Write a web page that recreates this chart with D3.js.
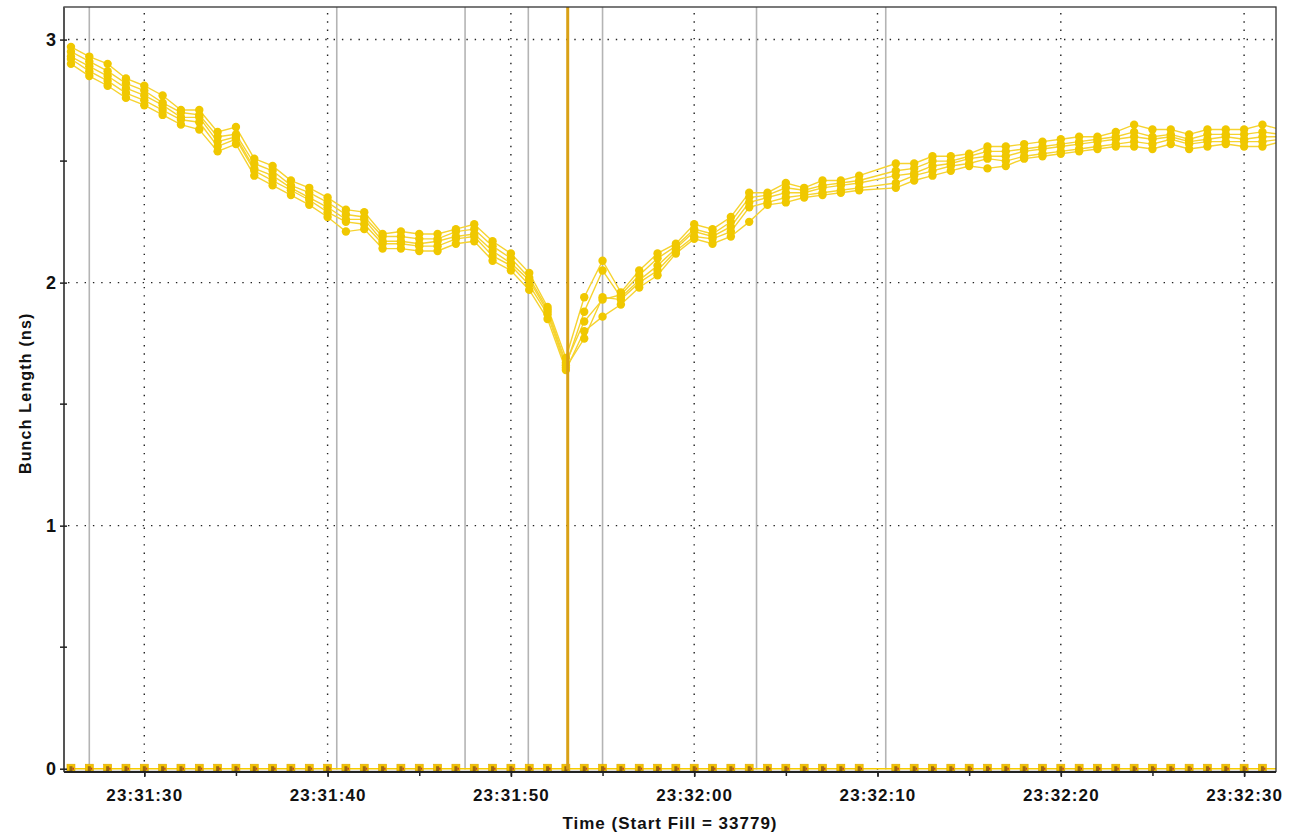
<!DOCTYPE html>
<html>
<head>
<meta charset="utf-8">
<script src="https://cdn.jsdelivr.net/npm/d3@7"></script>
<style>
  body { margin: 0; background: #fff; }
  text { font-family: "Liberation Sans", Arial, sans-serif; font-weight: bold; fill: #111; }
</style>
</head>
<body>
<script>
// Bunch length vs time, 23:31:26 .. 23:32:32 (seconds after 23:31:00)
let sampleSec = [
  26, 27, 28, 29, 30, 31, 32, 33, 34, 35, 36, 37, 38, 39, 40, 41, 42, 43, 44, 45,
  46, 47, 48, 49, 50, 51, 52, 53, 54, 55, 56, 57, 58, 59, 60, 61, 62, 63, 64, 65,
  66, 67, 68, 69, 71, 72, 73, 74, 75, 76, 77, 78, 79, 80, 81, 82, 83, 84, 85, 86,
  87, 88, 89, 90, 91, 92
]

let bunch1 = [
  2.97, 2.93, 2.90, 2.84, 2.81, 2.77, 2.71, 2.71, 2.62, 2.64, 2.51, 2.48, 2.42, 2.39, 2.35, 2.30, 2.29, 2.20, 2.21, 2.20,
  2.20, 2.22, 2.24, 2.17, 2.12, 2.04, 1.90, 1.69, 1.94, 2.09, 1.96, 2.05, 2.12, 2.16, 2.24, 2.22, 2.27, 2.37, 2.37, 2.41,
  2.39, 2.42, 2.42, 2.44, 2.49, 2.49, 2.52, 2.52, 2.53, 2.56, 2.56, 2.57, 2.58, 2.59, 2.60, 2.60, 2.62, 2.65, 2.63, 2.63,
  2.61, 2.63, 2.63, 2.63, 2.65, 2.63
]
let bunch2 = [
  2.95, 2.91, 2.87, 2.82, 2.79, 2.74, 2.70, 2.69, 2.60, 2.61, 2.49, 2.46, 2.40, 2.37, 2.33, 2.28, 2.27, 2.19, 2.19, 2.18,
  2.18, 2.21, 2.22, 2.15, 2.10, 2.02, 1.89, 1.67, 1.84, 1.93, 1.95, 2.03, 2.10, 2.15, 2.22, 2.20, 2.25, 2.35, 2.36, 2.39,
  2.38, 2.40, 2.41, 2.42, 2.46, 2.47, 2.50, 2.50, 2.52, 2.54, 2.54, 2.55, 2.56, 2.57, 2.58, 2.59, 2.60, 2.62, 2.60, 2.61,
  2.59, 2.61, 2.61, 2.61, 2.62, 2.61
]
let bunch3 = [
  2.93, 2.89, 2.85, 2.80, 2.77, 2.73, 2.68, 2.68, 2.58, 2.60, 2.47, 2.44, 2.39, 2.35, 2.31, 2.26, 2.26, 2.17, 2.17, 2.16,
  2.17, 2.19, 2.20, 2.13, 2.08, 2.01, 1.88, 1.66, 1.88, 2.05, 1.94, 2.01, 2.07, 2.14, 2.21, 2.19, 2.23, 2.33, 2.35, 2.37,
  2.37, 2.39, 2.40, 2.41, 2.44, 2.45, 2.48, 2.49, 2.51, 2.52, 2.52, 2.54, 2.55, 2.56, 2.57, 2.58, 2.59, 2.60, 2.59, 2.60,
  2.58, 2.59, 2.60, 2.59, 2.60, 2.60
]
let bunch4 = [
  2.92, 2.87, 2.83, 2.78, 2.75, 2.71, 2.67, 2.66, 2.56, 2.59, 2.46, 2.42, 2.38, 2.34, 2.29, 2.25, 2.24, 2.16, 2.16, 2.15,
  2.15, 2.18, 2.19, 2.11, 2.07, 1.99, 1.87, 1.65, 1.77, 1.94, 1.93, 2.00, 2.05, 2.13, 2.19, 2.18, 2.21, 2.31, 2.33, 2.35,
  2.36, 2.37, 2.38, 2.39, 2.41, 2.44, 2.46, 2.48, 2.49, 2.51, 2.50, 2.52, 2.53, 2.54, 2.55, 2.56, 2.57, 2.58, 2.57, 2.59,
  2.57, 2.58, 2.58, 2.58, 2.58, 2.59
]
let bunch5 = [
  2.90, 2.85, 2.81, 2.76, 2.73, 2.69, 2.65, 2.63, 2.54, 2.57, 2.44, 2.40, 2.36, 2.32, 2.27, 2.21, 2.22, 2.14, 2.14, 2.13,
  2.13, 2.16, 2.17, 2.09, 2.05, 1.97, 1.85, 1.64, 1.80, 1.86, 1.91, 1.98, 2.03, 2.12, 2.18, 2.16, 2.19, 2.25, 2.32, 2.33,
  2.35, 2.36, 2.37, 2.38, 2.39, 2.42, 2.44, 2.46, 2.48, 2.47, 2.48, 2.51, 2.52, 2.53, 2.54, 2.55, 2.56, 2.56, 2.55, 2.57,
  2.55, 2.56, 2.57, 2.56, 2.56, 2.58
]
// empty buckets sit on the zero line
let zeroBunch = [
  0, 0, 0, 0, 0, 0, 0, 0, 0, 0, 0, 0, 0, 0, 0, 0, 0, 0, 0, 0,
  0, 0, 0, 0, 0, 0, 0, 0, 0, 0, 0, 0, 0, 0, 0, 0, 0, 0, 0, 0,
  0, 0, 0, 0, 0, 0, 0, 0, 0, 0, 0, 0, 0, 0, 0, 0, 0, 0, 0, 0,
  0, 0, 0, 0, 0, 0
]
let bunchSeries = [bunch1, bunch2, bunch3, bunch4, bunch5]

// event markers (seconds after 23:31:00)
let grayEvents = [27.0, 40.5, 47.5, 50.95, 55.0, 63.4, 70.45]
let orangeEvents = [53.1]

let yTicks = [0, 1, 2, 3]
let yMinorTicks = [0.5, 1.5, 2.5]

let W = 1296
let H = 833
let margin = { left: 64, right: 20, top: 7, bottom: 62 }

let baseTime = new Date(2000, 0, 1, 23, 31, 0)
let toDate = s => new Date(baseTime.getTime() + s * 1000)

let svg = d3.select('body')
  .append('svg')
  .attr('width', W)
  .attr('height', H)

let xScale = d3.scaleTime()
  .domain([toDate(25.62), toDate(91.74)])
  .range([margin.left, W - margin.right])
let yScale = d3.scaleLinear()
  .domain([-0.0115, 3.134])
  .range([H - margin.bottom + 0.5, margin.top])

let x0 = margin.left, x1 = W - margin.right
let y0 = H - margin.bottom + 0.5, y1 = margin.top

svg.append('clipPath').attr('id', 'plot')
  .append('rect')
  .attr('x', x0).attr('y', y1)
  .attr('width', x1 - x0).attr('height', y0 - y1)

// dotted grid
let majorTimes = xScale.ticks(d3.timeSecond.every(10))
let grid = svg.append('g').attr('stroke', '#222').attr('stroke-width', 1.4).attr('stroke-dasharray', '1.4,6.9')
grid.selectAll('.vg').data(majorTimes).enter().append('line')
  .attr('x1', d => xScale(d)).attr('x2', d => xScale(d))
  .attr('y1', y1 + 6).attr('y2', y0)
grid.selectAll('.hg').data(yTicks.filter(d => d > 0)).enter().append('line')
  .attr('x1', x0 + 4).attr('x2', x1)
  .attr('y1', d => yScale(d)).attr('y2', d => yScale(d))

let plot = svg.append('g').attr('clip-path', 'url(#plot)')

// gray event lines
plot.selectAll('.ev').data(grayEvents).enter().append('line')
  .attr('x1', d => xScale(toDate(d))).attr('x2', d => xScale(toDate(d)))
  .attr('y1', y1).attr('y2', y0 - 2)
  .attr('stroke', '#b4b4b4').attr('stroke-width', 1.6)

// bunch length lines
let line = d3.line()
  .x((d, i) => xScale(toDate(sampleSec[i])))
  .y(d => yScale(d))

bunchSeries.forEach(s => {
  plot.append('path')
    .attr('d', line(s))
    .attr('fill', 'none')
    .attr('stroke', '#f6d330')
    .attr('stroke-width', 1.4)
})
bunchSeries.forEach(s => {
  plot.selectAll(null).data(s).enter().append('circle')
    .attr('cx', (d, i) => xScale(toDate(sampleSec[i])))
    .attr('cy', d => yScale(d))
    .attr('r', 4.2)
    .attr('fill', '#f0c800')
})

// zero line with square markers
plot.append('path')
  .attr('d', line(zeroBunch))
  .attr('fill', 'none')
  .attr('stroke', '#f7cc00')
  .attr('stroke-width', 1.6)
let sq = plot.selectAll('.sq').data(zeroBunch).enter().append('g')
  .attr('transform', (d, i) => 'translate(' + xScale(toDate(sampleSec[i])) + ',' + yScale(d) + ')')
sq.append('rect').attr('x', -4).attr('y', -4.5).attr('width', 8).attr('height', 9)
  .attr('fill', '#f3c400').attr('stroke', '#e0a800').attr('stroke-width', 0.6)
sq.append('rect').attr('x', -1.5).attr('y', -2.5).attr('width', 3).attr('height', 5)
  .attr('fill', '#9a6a10')
sq.append('rect').attr('x', 1.5).attr('y', -1).attr('width', 1.5).attr('height', 2)
  .attr('fill', '#c0392b')

// orange event line
plot.selectAll('.oe').data(orangeEvents).enter().append('line')
  .attr('x1', d => xScale(toDate(d))).attr('x2', d => xScale(toDate(d)))
  .attr('y1', y1).attr('y2', y0 - 2)
  .attr('stroke', '#d9a116').attr('stroke-width', 3)

// frame
svg.append('rect')
  .attr('x', x0).attr('y', y1)
  .attr('width', x1 - x0).attr('height', y0 - y1)
  .attr('fill', 'none').attr('stroke', '#333').attr('stroke-width', 1.3)
svg.append('line').attr('x1', x0).attr('x2', x0).attr('y1', y1).attr('y2', y0)
  .attr('stroke', '#555').attr('stroke-width', 2)
svg.append('line').attr('x1', x0).attr('x2', x1).attr('y1', y0 + 0.5).attr('y2', y0 + 0.5)
  .attr('stroke', '#222').attr('stroke-width', 2)

// x axis
let xAxis = d3.axisBottom(xScale)
  .ticks(d3.timeSecond.every(10))
  .tickFormat(d3.timeFormat('%H:%M:%S'))
  .tickSize(5)
  .tickPadding(12)
let xAxisMinor = d3.axisBottom(xScale)
  .ticks(d3.timeSecond.every(5))
  .tickFormat('')
  .tickSize(4)
let gxm = svg.append('g').attr('transform', 'translate(0,' + (y0 + 0.5) + ')').call(xAxisMinor)
let gx = svg.append('g').attr('transform', 'translate(0,' + (y0 + 0.5) + ')').call(xAxis)
;[gx, gxm].forEach(g => {
  g.select('.domain').remove()
  g.selectAll('.tick line').attr('stroke', '#222').attr('stroke-width', 1.5)
})
gx.selectAll('.tick text')
  .attr('font-size', 17)
  .attr('letter-spacing', '1.1px')
  .attr('fill', '#111')
  .style('font-family', '"Liberation Sans", Arial, sans-serif')
  .style('font-weight', 'bold')

// y axis
let yAxis = d3.axisLeft(yScale)
  .tickValues(yTicks)
  .tickFormat(d3.format('d'))
  .tickSizeInner(4)
  .tickSizeOuter(0)
  .tickPadding(4)
let gy = svg.append('g').attr('transform', 'translate(' + x0 + ',0)').call(yAxis)
gy.select('.domain').remove()
gy.selectAll('.tick line').attr('x2', -4).attr('x1', 3).attr('stroke', '#222').attr('stroke-width', 1.5)
gy.selectAll('.tick text')
  .attr('font-size', 18)
  .attr('fill', '#111')
  .style('font-family', '"Liberation Sans", Arial, sans-serif')
  .style('font-weight', 'bold')
svg.append('g').selectAll('line').data(yMinorTicks).enter().append('line')
  .attr('x1', x0 - 4).attr('x2', x0 + 3)
  .attr('y1', d => yScale(d)).attr('y2', d => yScale(d))
  .attr('stroke', '#222').attr('stroke-width', 1.5)

// titles
svg.append('text')
  .attr('x', (x0 + x1) / 2)
  .attr('y', 829)
  .attr('text-anchor', 'middle')
  .attr('font-size', 17)
  .attr('letter-spacing', '1px')
  .text('Time (Start Fill = 33779)')
svg.append('text')
  .attr('transform', 'translate(31,' + ((y0 + y1) / 2 + 4) + ') rotate(-90)')
  .attr('text-anchor', 'middle')
  .attr('font-size', 16)
  .attr('letter-spacing', '1.2px')
  .text('Bunch Length (ns)')
</script>
</body>
</html>
